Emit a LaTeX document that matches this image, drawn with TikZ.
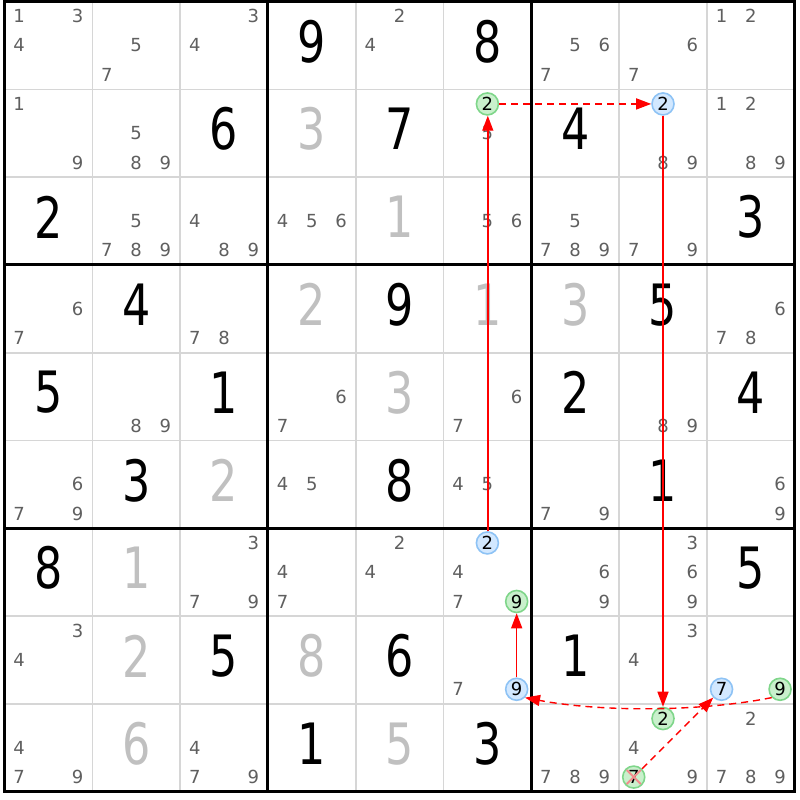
\documentclass[tikz,border=0pt]{standalone}
\usepackage{fontspec}
\usepackage{graphicx}
\setmainfont{DejaVu Sans}
\usetikzlibrary{arrows.meta}
\definecolor{candc}{HTML}{5F5F5F}
\definecolor{givc}{HTML}{C0C0C0}
\definecolor{thinc}{HTML}{D6D6D6}
\definecolor{gfill}{HTML}{C9F0CC}
\definecolor{gline}{HTML}{7FD68A}
\definecolor{bfill}{HTML}{D2E8FF}
\definecolor{bline}{HTML}{8EC3F5}
\definecolor{xred}{HTML}{F28C8C}
\definecolor{linkred}{HTML}{FF0000}

\newcommand\cands[3]{\foreach \d in {#3}{%
  \pgfmathsetmacro\cx{4.5+(#2-1)*87.8+(2*mod(\d-1,3)+1)*87.8/6}%
  \pgfmathsetmacro\cy{1.5+(#1-1)*87.8+(2*div(\d-1,3)+1)*87.8/6}%
  \node[cand] (n#1#2\d) at (\cx,\cy) {\d};}}
\newcommand\bigdig[4]{\node[#4] (b#1#2) at ({4.5+(#2-0.5)*87.8},{1.5+(#1-0.5)*87.8-4}) {\scalebox{0.78}[1]{#3}};}
\newcommand\hl[5]{%
  \pgfmathsetmacro\cx{4.5+(#2-1)*87.8+(2*mod(#3-1,3)+1)*87.8/6}%
  \pgfmathsetmacro\cy{1.5+(#1-1)*87.8+(2*div(#3-1,3)+1)*87.8/6}%
  \node[#4] (#5) at (\cx,\cy) {#3};}

\begin{document}
\begin{tikzpicture}[x=1pt,y=-1pt,
  cand/.style={inner sep=0pt, text=candc, font=\fontsize{18}{18}\selectfont},
  solved/.style={inner sep=0pt, text=black, font=\fontsize{57}{57}\selectfont},
  givenclue/.style={inner sep=0pt, text=givc, font=\fontsize{57}{57}\selectfont},
  gcirc/.style={circle, inner sep=0pt, minimum size=22pt, line width=1.6pt, draw=gline, fill=gfill, text=black, font=\fontsize{18}{18}\selectfont},
  bcirc/.style={gcirc, draw=bline, fill=bfill},
  thingrid/.style={draw=thinc, line width=1.6pt},
  thickgrid/.style={draw=black, line width=3pt},
  strong/.style={draw, line width=1.4pt, -{Triangle[length=15pt,width=11pt]}},
  weak/.style={strong, line width=1.4pt, dash pattern=on 7pt off 5pt},
  xmark/.style={draw=xred, line width=2pt}]
\useasboundingbox (0,0) rectangle (800,800);
\fill[white] (0,0) rectangle (800,800);
% grid
\foreach \i in {1,2,4,5,7,8}{
  \draw[thingrid] ({4.5+\i*87.8},1.5) -- ({4.5+\i*87.8},791.7);
  \draw[thingrid] (4.5,{1.5+\i*87.8}) -- (794.7,{1.5+\i*87.8});
}
\foreach \i in {3,6}{
  \draw[thickgrid] ({4.5+\i*87.8},1.5) -- ({4.5+\i*87.8},791.7);
  \draw[thickgrid] (4.5,{1.5+\i*87.8}) -- (794.7,{1.5+\i*87.8});
}
\draw[thickgrid] (4.5,1.5) rectangle (794.7,791.7);

% givens (grey)
\bigdig{2}{4}{3}{givenclue}
\bigdig{3}{5}{1}{givenclue}
\bigdig{4}{4}{2}{givenclue}
\bigdig{4}{6}{1}{givenclue}
\bigdig{4}{7}{3}{givenclue}
\bigdig{5}{5}{3}{givenclue}
\bigdig{6}{3}{2}{givenclue}
\bigdig{7}{2}{1}{givenclue}
\bigdig{8}{2}{2}{givenclue}
\bigdig{8}{4}{8}{givenclue}
\bigdig{9}{2}{6}{givenclue}
\bigdig{9}{5}{5}{givenclue}
% solved (black)
\bigdig{1}{4}{9}{solved}
\bigdig{1}{6}{8}{solved}
\bigdig{2}{3}{6}{solved}
\bigdig{2}{5}{7}{solved}
\bigdig{2}{7}{4}{solved}
\bigdig{3}{1}{2}{solved}
\bigdig{3}{9}{3}{solved}
\bigdig{4}{2}{4}{solved}
\bigdig{4}{5}{9}{solved}
\bigdig{4}{8}{5}{solved}
\bigdig{5}{1}{5}{solved}
\bigdig{5}{3}{1}{solved}
\bigdig{5}{7}{2}{solved}
\bigdig{5}{9}{4}{solved}
\bigdig{6}{2}{3}{solved}
\bigdig{6}{5}{8}{solved}
\bigdig{6}{8}{1}{solved}
\bigdig{7}{1}{8}{solved}
\bigdig{7}{9}{5}{solved}
\bigdig{8}{3}{5}{solved}
\bigdig{8}{5}{6}{solved}
\bigdig{8}{7}{1}{solved}
\bigdig{9}{4}{1}{solved}
\bigdig{9}{6}{3}{solved}

% candidates
\cands{1}{1}{1,3,4}
\cands{1}{2}{5,7}
\cands{1}{3}{3,4}
\cands{1}{5}{2,4}
\cands{1}{7}{5,6,7}
\cands{1}{8}{6,7}
\cands{1}{9}{1,2}
\cands{2}{1}{1,9}
\cands{2}{2}{5,8,9}
\cands{2}{6}{5}
\cands{2}{8}{8,9}
\cands{2}{9}{1,2,8,9}
\cands{3}{2}{5,7,8,9}
\cands{3}{3}{4,8,9}
\cands{3}{4}{4,5,6}
\cands{3}{6}{5,6}
\cands{3}{7}{5,7,8,9}
\cands{3}{8}{7,9}
\cands{4}{1}{6,7}
\cands{4}{3}{7,8}
\cands{4}{9}{6,7,8}
\cands{5}{2}{8,9}
\cands{5}{4}{6,7}
\cands{5}{6}{6,7}
\cands{5}{8}{8,9}
\cands{6}{1}{6,7,9}
\cands{6}{4}{4,5}
\cands{6}{6}{4,5}
\cands{6}{7}{7,9}
\cands{6}{9}{6,9}
\cands{7}{3}{3,7,9}
\cands{7}{4}{4,7}
\cands{7}{5}{2,4}
\cands{7}{6}{4,7}
\cands{7}{7}{6,9}
\cands{7}{8}{3,6,9}
\cands{8}{1}{3,4}
\cands{8}{6}{7}
\cands{8}{8}{3,4}
\cands{9}{1}{4,7,9}
\cands{9}{3}{4,7,9}
\cands{9}{7}{7,8,9}
\cands{9}{8}{4,9}
\cands{9}{9}{2,7,8,9}

% highlighted candidates
\hl{2}{6}{2}{gcirc}{A}
\hl{2}{8}{2}{bcirc}{B}
\hl{9}{8}{2}{gcirc}{C}
\hl{7}{6}{2}{bcirc}{D}
\hl{7}{6}{9}{gcirc}{E}
\hl{8}{6}{9}{bcirc}{F}
\hl{8}{9}{9}{gcirc}{G}
\hl{8}{9}{7}{bcirc}{H}
\hl{9}{8}{7}{gcirc}{K}

% links
\begin{scope}[color=linkred]
\draw[strong] ([xshift=0.4pt]D.north) -- ([xshift=0.4pt]A.south);
\draw[weak] (A.east) -- (B.west);
\draw[strong] (B.south) -- (C.north);
\draw[weak] (G.225) .. controls (700,712) and (600,712) .. (F.-45);
\draw[strong] (F.north) -- (E.south);
\draw[weak] (K.45) -- (H.225);
\end{scope}

% crossed-out candidate
\draw[xmark] ([shift={(-7,-7)}]K.center) -- ([shift={(7,7)}]K.center);
\draw[xmark] ([shift={(-7,7)}]K.center) -- ([shift={(7,-7)}]K.center);
\end{tikzpicture}
\end{document}
